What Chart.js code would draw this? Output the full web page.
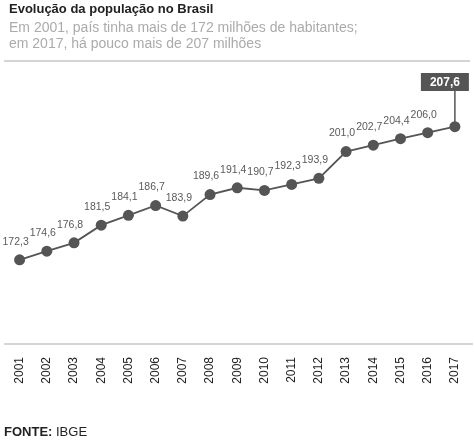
<!DOCTYPE html>
<html>
<head>
<meta charset="utf-8">
<script src="https://cdn.jsdelivr.net/npm/chart.js@4/dist/chart.umd.min.js"></script>
<style>
    body { margin: 0; background: #fff; font-family: "Liberation Sans", Arial, sans-serif; }
    #wrap { position: relative; width: 474px; height: 442px; overflow: hidden; }
    #chart { position: absolute; left: 0; top: 0; }
    .title { position: absolute; left: 9px; top: 1px; font-size: 13px; font-weight: bold; color: #222; }
    .sub { position: absolute; left: 9px; top: 19px; font-size: 14px; line-height: 16px; color: #ababab; }
    .source { position: absolute; left: 4px; top: 424px; font-size: 13px; color: #222; }
</style>
</head>
<body>
<div id="wrap">
    <canvas id="chart" width="474" height="442"></canvas>
    <div class="title">Evolução da população no Brasil</div>
    <div class="sub">Em 2001, país tinha mais de 172 milhões de habitantes;<br>em 2017, há pouco mais de 207 milhões</div>
    <div class="source"><b>FONTE:</b> IBGE</div>
</div>
<script>
const years = ['2001', '2002', '2003', '2004', '2005', '2006', '2007', '2008', '2009',
    '2010', '2011', '2012', '2013', '2014', '2015', '2016', '2017'];
// milhões de habitantes
const population = [172.3, 174.6, 176.8, 181.5, 184.1, 186.7, 183.9, 189.6, 191.4,
    190.7, 192.3, 193.9, 201.0, 202.7, 204.4, 206.0, 207.6];
const yRange = [150, 225];

const dark = '#555555';

function fmt(v) {
    return v.toFixed(1).replace('.', ',');
}

// frame lines + value labels
const decorations = {
    id: 'decorations',
    beforeDraw(chart) {
        const ctx = chart.ctx, area = chart.chartArea;
        ctx.save();
        ctx.strokeStyle = '#c8c8c8';
        ctx.lineWidth = 1.5;
        ctx.beginPath();
        ctx.moveTo(4, area.top);
        ctx.lineTo(470, area.top);
        ctx.moveTo(4, area.bottom);
        ctx.lineTo(473, area.bottom);
        ctx.stroke();
        ctx.restore();
    },
    beforeDatasetsDraw(chart) {
        const ctx = chart.ctx;
        const pts = chart.getDatasetMeta(0).data;
        const last = pts[pts.length - 1];
        ctx.save();
        ctx.strokeStyle = dark;
        ctx.lineWidth = 1.5;
        ctx.beginPath();
        ctx.moveTo(last.x, last.y);
        ctx.lineTo(last.x, chart.chartArea.top + 30);
        ctx.stroke();
        ctx.restore();
    },
    afterDatasetsDraw(chart) {
        const ctx = chart.ctx;
        const pts = chart.getDatasetMeta(0).data;
        ctx.save();
        ctx.textAlign = 'center';
        ctx.textBaseline = 'middle';
        ctx.font = '10.5px "Liberation Sans", Arial, sans-serif';
        ctx.fillStyle = '#5a5a5a';
        for (let i = 0; i < pts.length - 1; i++) {
            ctx.fillText(fmt(population[i]), pts[i].x - 4, pts[i].y - 18);
        }
        // highlighted last value
        const last = pts[pts.length - 1];
        const bw = 48, bh = 18;
        const bx = last.x + 14 - bw, by = chart.chartArea.top + 12;
        ctx.fillStyle = dark;
        ctx.fillRect(bx, by, bw, bh);
        ctx.fillStyle = '#fff';
        ctx.font = 'bold 12px "Liberation Sans", Arial, sans-serif';
        ctx.fillText(fmt(population[population.length - 1]), bx + bw / 2, by + bh / 2 + 0.5);
        ctx.restore();
    }
};

new Chart(document.getElementById('chart'), {
    type: 'line',
    data: {
        labels: years,
        datasets: [{
            data: population,
            borderColor: dark,
            borderWidth: 1.8,
            backgroundColor: dark,
            pointRadius: 5.5,
            pointBorderWidth: 0,
            pointBackgroundColor: dark,
            tension: 0
        }]
    },
    options: {
        responsive: false,
        animation: false,
        layout: { padding: { top: 61, left: 6, right: 4, bottom: 42 } },
        plugins: {
            legend: { display: false },
            tooltip: { enabled: false }
        },
        scales: {
            x: {
                offset: true,
                // tick marks hidden, tickLength only used as the gap to the labels
                grid: { display: false, drawTicks: true, tickLength: 13 },
                border: { display: false },
                ticks: {
                    autoSkip: false,
                    minRotation: 90,
                    maxRotation: 90,
                    padding: 0,
                    color: '#222',
                    font: { family: '"Liberation Sans", Arial, sans-serif', size: 12 }
                },
                afterFit(scale) { scale.height = 56; }
            },
            y: {
                display: false,
                min: yRange[0],
                max: yRange[1]
            }
        }
    },
    plugins: [decorations]
});
</script>
</body>
</html>
